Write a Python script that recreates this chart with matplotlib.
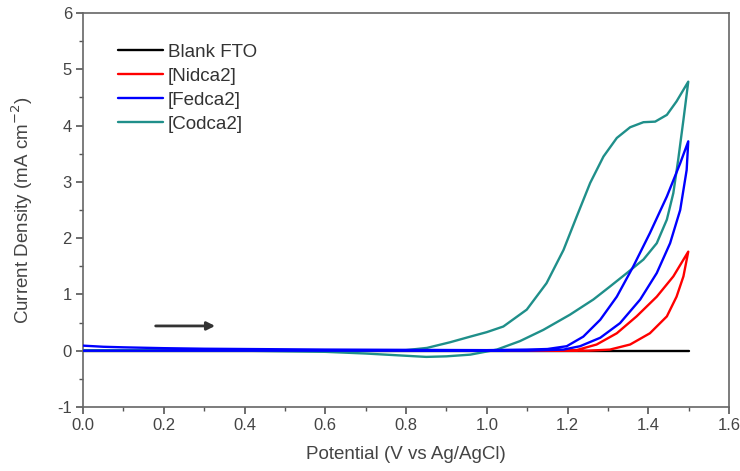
import matplotlib
matplotlib.use("Agg")
import matplotlib.pyplot as plt
from matplotlib.ticker import MultipleLocator

plt.rcParams['font.family'] = ['Liberation Sans', 'DejaVu Sans']

# Blank FTO
blank_v = [0.0, 0.5, 1.0, 1.5]
blank_i = [0.0, 0.0, 0.0, 0.0]

# [Nidca2] forward / reverse
ni_fwd_v = [0.0, 0.5, 1.0, 1.2, 1.222, 1.272, 1.322, 1.371, 1.421, 1.462, 1.499]
ni_fwd_i = [0.0, 0.0, 0.0, 0.0, 0.01, 0.11, 0.31, 0.61, 0.96, 1.32, 1.76]
ni_rev_v = [1.499, 1.487, 1.470, 1.446, 1.404, 1.355, 1.305, 1.25, 1.0, 0.5, 0.0]
ni_rev_i = [1.76, 1.32, 0.96, 0.61, 0.31, 0.11, 0.02, 0.0, 0.0, 0.0, 0.0]

# [Fedca2] forward / reverse
fe_fwd_v = [0.0, 0.05, 0.1, 0.2, 0.3, 0.4, 0.6, 0.8, 1.0, 1.1, 1.15, 1.198, 1.239, 1.281, 1.322,
            1.363, 1.404, 1.446, 1.479, 1.499]
fe_fwd_i = [0.09, 0.07, 0.06, 0.045, 0.035, 0.03, 0.02, 0.015, 0.01, 0.02, 0.03, 0.08, 0.25, 0.55, 0.96,
            1.50, 2.09, 2.74, 3.33, 3.72]
fe_rev_v = [1.499, 1.495, 1.479, 1.454, 1.421, 1.380, 1.330, 1.281, 1.231, 1.19, 1.1, 1.0, 0.6, 0.2, 0.0]
fe_rev_i = [3.72, 3.21, 2.50, 1.91, 1.38, 0.91, 0.49, 0.23, 0.08, 0.02, 0.0, 0.0, 0.0, 0.0, 0.0]

# [Codca2] forward / reverse
co_fwd_v = [0.0, 0.2, 0.4, 0.6, 0.7, 0.8, 0.852, 0.909, 0.959, 1.0, 1.041, 1.099, 1.148, 1.190, 1.223,
            1.256, 1.289, 1.322, 1.355, 1.388, 1.417, 1.446, 1.470, 1.499]
co_fwd_i = [0.0, 0.01, 0.01, 0.0, 0.0, 0.01, 0.05, 0.15, 0.25, 0.33, 0.43, 0.73, 1.20, 1.79, 2.39,
            2.98, 3.45, 3.78, 3.97, 4.06, 4.07, 4.19, 4.43, 4.78]
co_rev_v = [1.499, 1.487, 1.474, 1.462, 1.446, 1.421, 1.388, 1.347, 1.305, 1.264, 1.206, 1.140, 1.082,
            1.025, 0.959, 0.90, 0.85, 0.80, 0.7, 0.6, 0.4, 0.2, 0.0]
co_rev_i = [4.78, 4.10, 3.39, 2.80, 2.33, 1.91, 1.62, 1.38, 1.14, 0.91, 0.64, 0.37, 0.17,
            0.02, -0.07, -0.10, -0.11, -0.09, -0.05, -0.02, 0.0, 0.0, 0.0]

labels = ['Blank FTO', '[Nidca2]', '[Fedca2]', '[Codca2]']
colors = ['#000000', '#ff0000', '#0000ff', '#1f8f8a']

x_ticks = [0.0, 0.2, 0.4, 0.6, 0.8, 1.0, 1.2, 1.4, 1.6]
y_ticks = [-1, 0, 1, 2, 3, 4, 5, 6]

fig = plt.figure(figsize=(7.4, 4.71), dpi=100)
ax = fig.add_axes([0.1122, 0.1359, 0.873, 0.8365])

lw = 1.7
kw = dict(lw=lw, solid_joinstyle='round', solid_capstyle='round')
ax.plot(blank_v, blank_i, color=colors[0], label=labels[0], zorder=2, **kw)
ax.plot(ni_fwd_v + ni_rev_v, ni_fwd_i + ni_rev_i, color=colors[1], label=labels[1], zorder=3, **kw)
ax.plot(fe_fwd_v + fe_rev_v, fe_fwd_i + fe_rev_i, color=colors[2], label=labels[2], zorder=5, **kw)
ax.plot(co_fwd_v + co_rev_v, co_fwd_i + co_rev_i, color=colors[3], label=labels[3], zorder=4, **kw)

ax.annotate('', xy=(0.334, 0.44), xytext=(0.173, 0.44),
            arrowprops=dict(arrowstyle='-|>', color='#333333', lw=2, mutation_scale=12))

ax.set_xlim(0, 1.6)
ax.set_ylim(-1, 6)
ax.set_xticks(x_ticks)
ax.set_yticks(y_ticks)
ax.set_xticklabels([f'{v:.1f}' for v in x_ticks])
ax.set_yticklabels([str(v) for v in y_ticks])
ax.xaxis.set_minor_locator(MultipleLocator(0.1))
ax.yaxis.set_minor_locator(MultipleLocator(0.5))

tc = '#444444'
for s in ax.spines.values():
    s.set_color('#666666')
    s.set_linewidth(1.2)
ax.tick_params(which='both', direction='out', colors='#555555', labelcolor=tc,
               top=False, right=False, labelsize=12)
ax.tick_params(which='major', length=5, width=1.2, pad=3)
ax.tick_params(which='minor', length=2.8, width=1.0)

ax.set_xlabel('Potential (V vs Ag/AgCl)', fontsize=13.5, color=tc)
ax.set_ylabel('Current Density (mA cm$^{-2}$)', fontsize=13.5, color=tc)
ax.xaxis.set_label_coords(0.5, -0.100)
ax.yaxis.set_label_coords(-0.075, 0.5)

leg = ax.legend(loc='upper left', bbox_to_anchor=(0.054, 0.922), frameon=False,
                fontsize=13.5, handlelength=2.4, handletextpad=0.27, labelspacing=0.37,
                borderaxespad=0, borderpad=0)
for t in leg.get_texts():
    t.set_color('#333333')

fig.savefig('out.png', dpi=100)
